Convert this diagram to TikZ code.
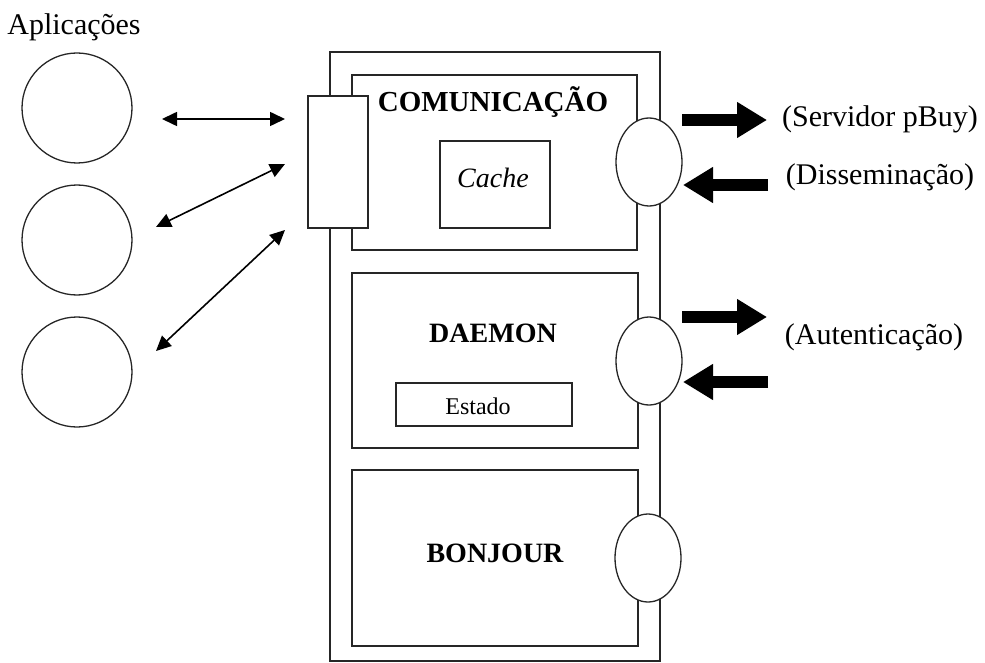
\documentclass[tikz,border=0pt]{standalone}
\usepackage{fontspec}
\setmainfont{Liberation Serif}
\usetikzlibrary{arrows.meta,shapes.geometric}

\begin{document}
\begin{tikzpicture}[x=1pt,y=-1pt,
  box/.style={draw=black!85,line width=1.3pt,rectangle,inner sep=0pt},
  port/.style={draw=black!85,line width=1.3pt,fill=white,ellipse,minimum width=66pt,minimum height=88pt,inner sep=0pt},
  app/.style={draw=black!85,line width=1.3pt,circle,minimum size=110pt,inner sep=0pt},
  thinarrow/.style={line width=1.6pt,{Triangle[length=15pt,width=14pt]}-{Triangle[length=15pt,width=14pt]}},
  boldarrow/.style={line width=12pt,-{Triangle[length=30pt,width=34pt]}},
  lbl/.style={font=\fontsize{30}{34}\selectfont,inner sep=0pt,anchor=base},
  title/.style={font=\bfseries\fontsize{28}{32}\selectfont,inner sep=0pt,anchor=base}]
\useasboundingbox (0,0) rectangle (985,663);

% applications
\node[lbl] (aptitle) at (74,35) {Aplicações};
\node[app] (app1) at (77,108) {};
\node[app] (app2) at (77,240) {};
\node[app] (app3) at (77,372) {};

% outer container and its three layers
\node[box,minimum width=330pt,minimum height=609pt] (outer) at (495,356.5) {};
\node[box,minimum width=285pt,minimum height=175pt] (comm) at (494.5,162.5) {};
\node[box,minimum width=110pt,minimum height=87pt] (cache) at (495,184.5) {};
\node[box,minimum width=286pt,minimum height=175pt] (daemon) at (495,360.5) {};
\node[box,minimum width=176pt,minimum height=43pt] (estado) at (484,404.5) {};
\node[box,minimum width=286pt,minimum height=176pt] (bonjour) at (495,558) {};

% interface towards the applications
\node[box,fill=white,minimum width=60pt,minimum height=132pt] (apiface) at (338,162) {};

% ports on the right side
\node[port] (port1) at (649,162) {};
\node[port] (port2) at (649,361) {};
\node[port] (port3) at (648,558) {};

% layer titles
\node[title,font=\bfseries\fontsize{29}{33}\selectfont] (tcomm) at (493,112) {COMUNICAÇÃO};
\node[lbl,font=\itshape\fontsize{28}{32}\selectfont] (tcache) at (493,188) {Cache};
\node[title] (tdaemon) at (493,342) {DAEMON};
\node[lbl,font=\fontsize{24}{28}\selectfont] (testado) at (478,414) {Estado};
\node[title] (tbonjour) at (495,562) {BONJOUR};

% application links
\coordinate (a1s) at (162,119);
\coordinate (a1e) at (285,119);
\coordinate (a2s) at (156,227);
\coordinate (a2e) at (285,164);
\coordinate (a3s) at (156,351);
\coordinate (a3e) at (285,230);
\draw[thinarrow] (a1s) -- (a1e);
\draw[thinarrow] (a2s) -- (a2e);
\draw[thinarrow] (a3s) -- (a3e);

% external traffic
\coordinate (o1s) at (682,120);
\coordinate (o1e) at (767,120);
\coordinate (i1s) at (768,185);
\coordinate (i1e) at (683,185);
\coordinate (o2s) at (682,317);
\coordinate (o2e) at (767,317);
\coordinate (i2s) at (768,382);
\coordinate (i2e) at (683,382);
\draw[boldarrow] (o1s) -- (o1e);
\draw[boldarrow] (i1s) -- (i1e);
\draw[boldarrow] (o2s) -- (o2e);
\draw[boldarrow] (i2s) -- (i2e);

\node[lbl] (lserv) at (880,127) {(Servidor pBuy)};
\node[lbl] (ldiss) at (880,185) {(Disseminação)};
\node[lbl] (laut) at (874,344) {(Autenticação)};
\end{tikzpicture}
\end{document}
